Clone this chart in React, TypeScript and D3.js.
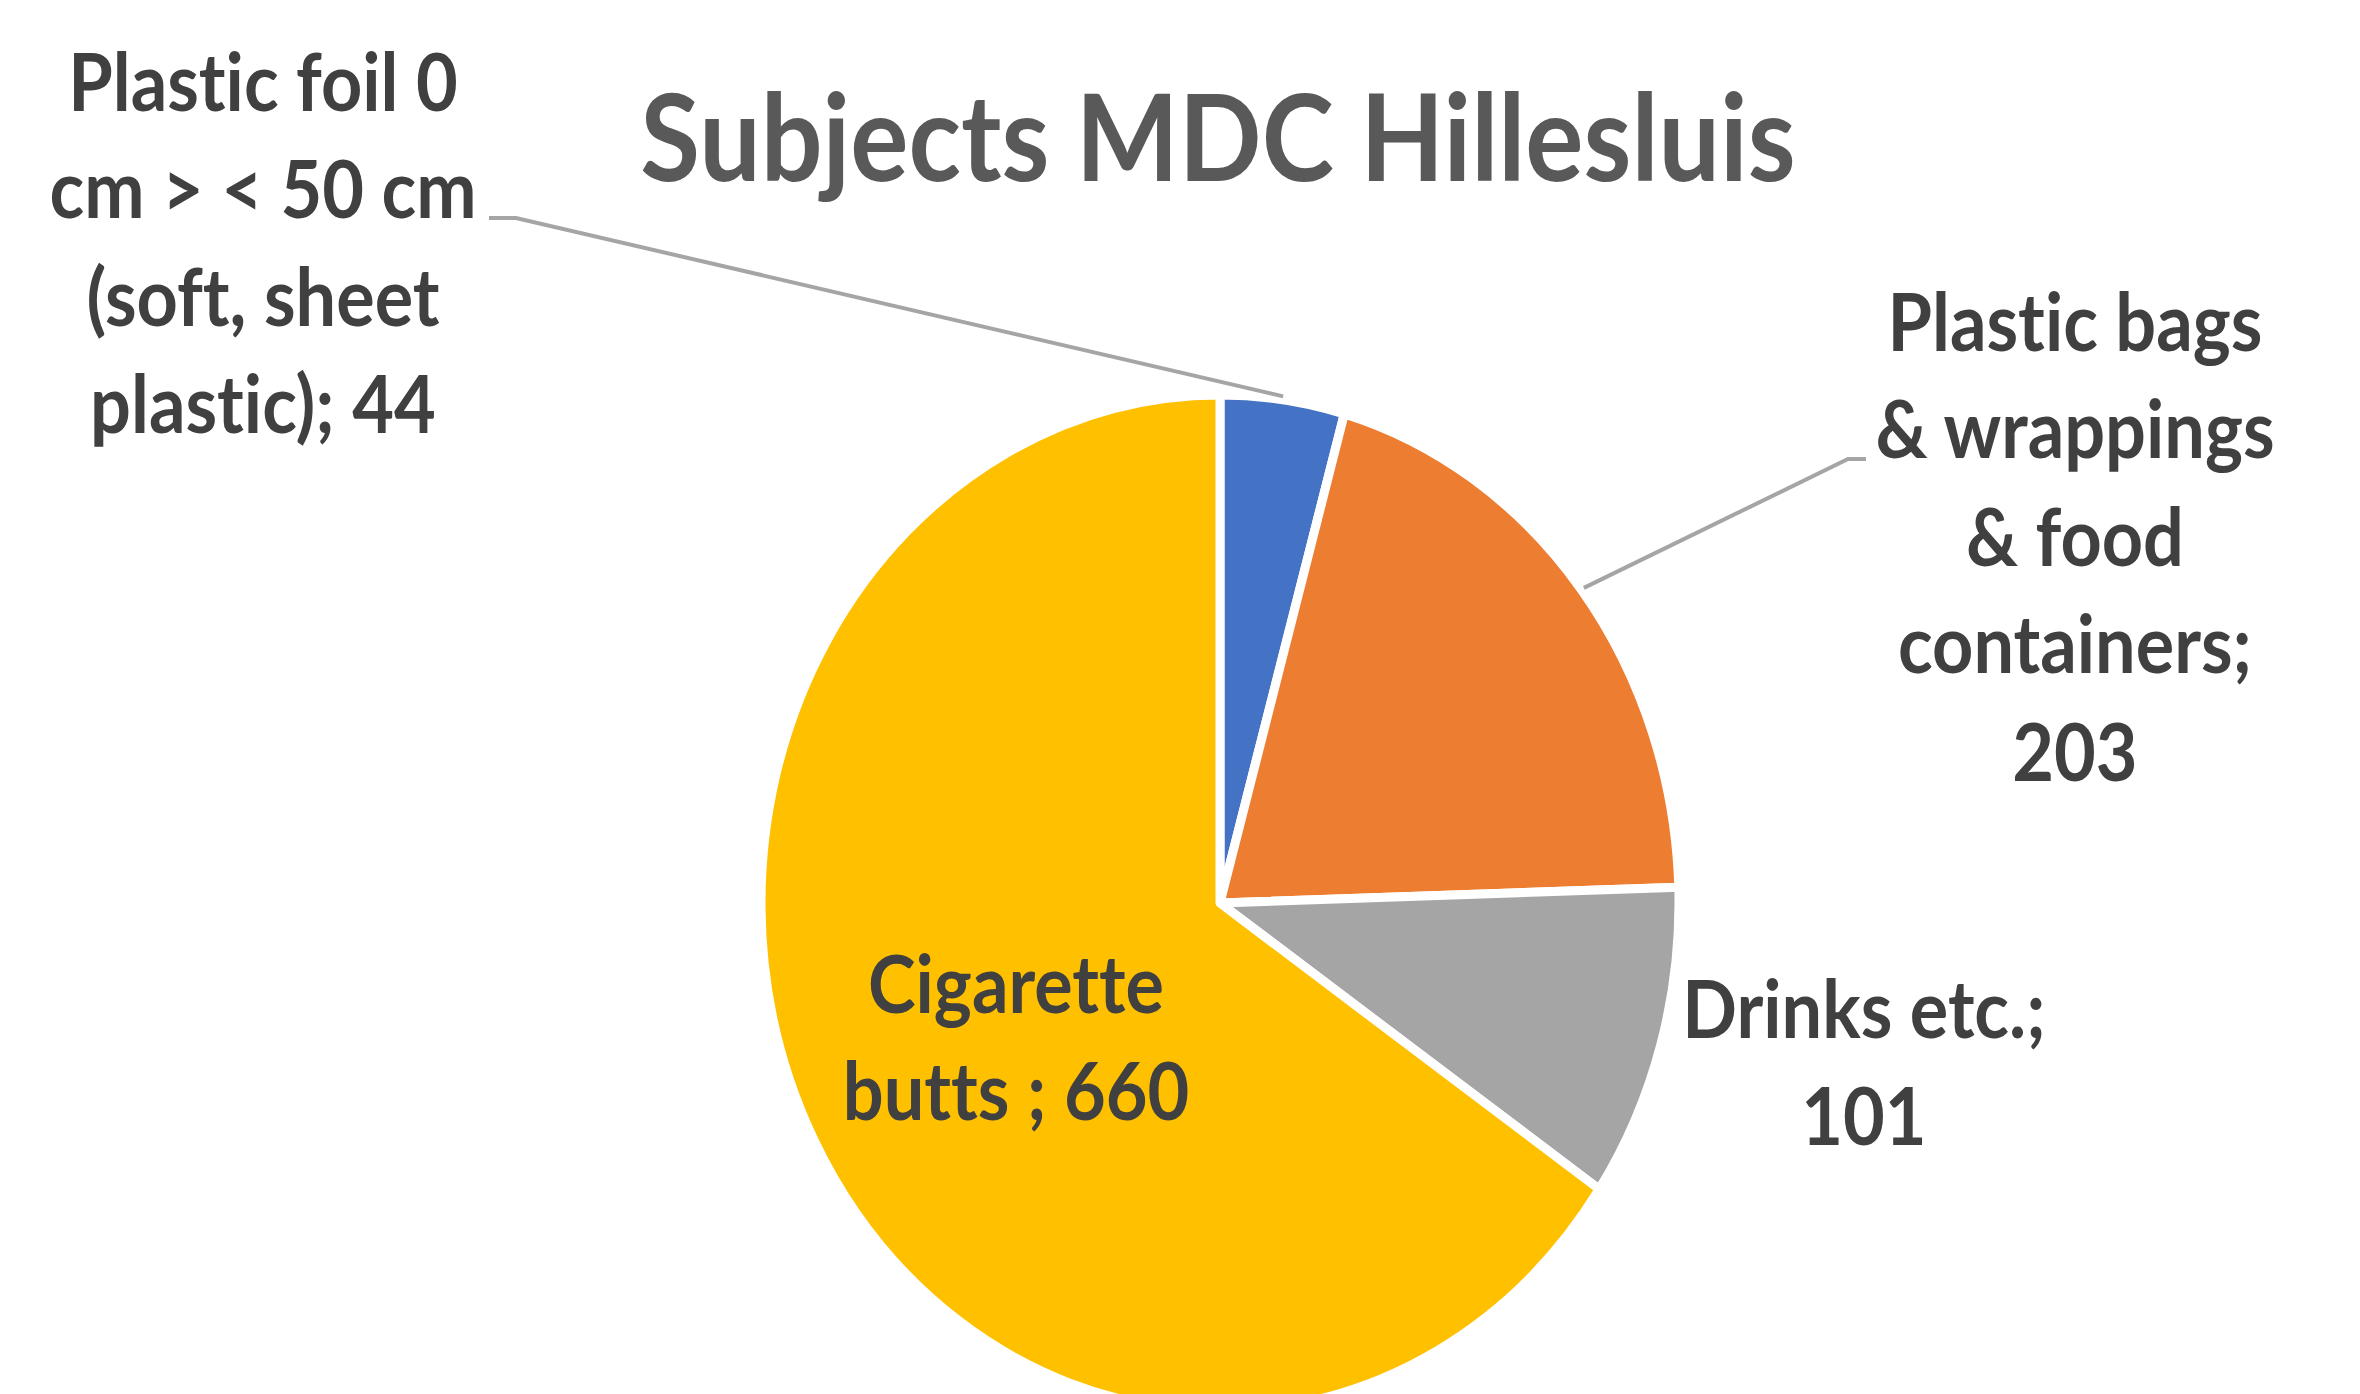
import React, { useEffect } from "react";
import * as d3 from "d3";

// ---- data ----
const categories = [
  "Plastic foil 0 cm > < 50 cm (soft, sheet plastic)",
  "Plastic bags & wrappings & food containers",
  "Drinks etc.",
  "Cigarette butts ",
];
const values = [44, 203, 101, 660];
const colors = ["#4472C4", "#ED7D31", "#A5A5A5", "#FFC000"];
// wrapped label lines, "{v}" is replaced by the value
const labelLines = [
  ["Plastic foil 0", "cm > < 50 cm", "(soft, sheet", "plastic); {v}"],
  ["Plastic bags", "& wrappings", "& food", "containers;", "{v}"],
  ["Drinks etc.;", "{v}"],
  ["Cigarette", "butts ; {v}"],
];
const title = "Subjects MDC Hillesluis";

// ---- layout ----
const W = 2360;
const H = 1394;
const SY = 1.107; // vertical stretch of the picture
const CX = 1220;
const CY = 903;
const R = 459;
const LINE = 107.5;
const labelPos = [
  { x: 263, y: 111 },
  { x: 2075, y: 351 },
  { x: 1864, y: 1038 },
  { x: 1016, y: 1013 },
];
// leader lines: start point (label side) and horizontal stub end
const leaders: { [k: number]: { x0: number; x1: number; y: number } } = {
  0: { x0: 489, x1: 516, y: 218 },
  1: { x0: 1866, x1: 1848, y: 459 },
};

export default function App() {
  useEffect(() => {
    document.body.style.margin = "0";
    document.body.style.overflow = "hidden";
  }, []);

  const pie = d3.pie<number>().sort(null).value((d) => d)(values);
  const arc = d3.arc<d3.PieArcDatum<number>>().innerRadius(0).outerRadius(R);
  const cy = CY / SY;

  const font = "Lato, 'Open Sans', sans-serif";
  const textStyle = { fontVariantLigatures: "none" as const, fontKerning: "normal" as const };

  return (
    <svg
      width={W}
      height={H}
      style={{ position: "absolute", left: 0, top: 0, background: "#fff" }}
    >
      <g transform={`scale(1, ${SY})`}>
        <text
          x={1218}
          y={181 / SY}
          textAnchor="middle"
          fontFamily={font}
          fontWeight={700}
          fontSize={109}
          fill="#595959"
          style={textStyle}
        >
          {title}
        </text>
        <g transform={`translate(${CX}, ${cy})`}>
          {pie.map((p, i) => (
            <path
              key={categories[i]}
              d={arc(p) || ""}
              fill={colors[i]}
              stroke="#fff"
              strokeWidth={9}
              strokeLinejoin="round"
              vectorEffect="non-scaling-stroke"
            />
          ))}
        </g>
        {pie.map((p, i) => {
          const L = leaders[i];
          if (!L) return null;
          const a = (p.startAngle + p.endAngle) / 2;
          const ex = CX + (R + 3) * Math.sin(a);
          const ey = cy - (R + 3) * Math.cos(a);
          return (
            <polyline
              key={"leader" + i}
              points={`${L.x0},${L.y / SY} ${L.x1},${L.y / SY} ${ex},${ey}`}
              fill="none"
              stroke="#A5A5A5"
              strokeWidth={4}
              vectorEffect="non-scaling-stroke"
            />
          );
        })}
        {labelLines.map((lines, i) => (
          <text
            key={"label" + i}
            textAnchor="middle"
            fontFamily={font}
            fontWeight={700}
            fontSize={72}
            fill="#404040"
            style={textStyle}
          >
            {lines.map((ln, j) => (
              <tspan
                key={j}
                x={labelPos[i].x}
                y={(labelPos[i].y + j * LINE) / SY}
              >
                {ln.replace("{v}", String(values[i]))}
              </tspan>
            ))}
          </text>
        ))}
      </g>
    </svg>
  );
}
